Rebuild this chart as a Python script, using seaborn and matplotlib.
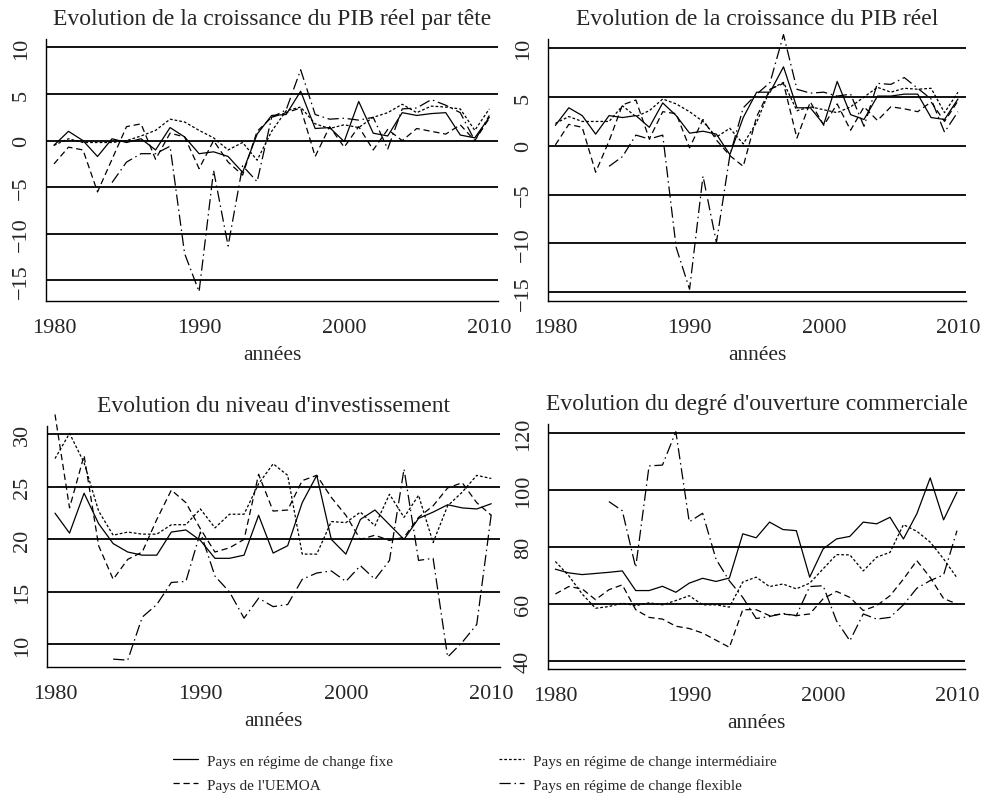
import numpy as np
import pandas as pd
import matplotlib
matplotlib.use("Agg")
import matplotlib.pyplot as plt
from matplotlib.lines import Line2D
import seaborn as sns

nan = np.nan
years = list(range(1980, 2011))

# Croissance du PIB réel par tête
pibt_fixe = [-0.5, 1.0, 0.0, -1.7, 0.2, -0.2, 0.2, -1.0, 1.4, 0.4, -1.4, -1.2, -1.7, -3.4, 0.7, 2.7,
             2.8, 5.3, 1.3, 1.4, -0.1, 4.2, 0.8, 0.5, 3.0, 2.7, 2.9, 3.0, 0.6, 0.3, 2.5]
pibt_inter = [-0.5, 0.2, -0.2, -0.2, -0.2, 0.0, 0.5, 1.1, 2.3, 2.0, 1.1, 0.3, -1.0, -0.2, -2.1, 1.0,
              3.2, 3.6, 1.8, 1.3, 1.7, 1.4, 2.5, 3.0, 3.9, 3.0, 3.7, 3.6, 3.4, 1.1, 3.4]
pibt_uemoa = [-2.5, -0.7, -1.0, -5.5, -2.0, 1.5, 1.8, -2.0, 0.8, 0.4, -3.0, 0.0, -2.3, -3.7, 1.0, 2.5,
              3.0, 3.5, -1.7, 1.5, -0.7, 1.5, -1.0, 1.2, 0.0, 1.3, 1.0, 0.7, 1.7, 0.0, 2.4]
pibt_flex = [nan, nan, nan, nan, -4.5, -2.3, -1.4, -1.4, -0.6, -12.1, -16.2, -3.2, -11.3, -2.7, -4.4, 2.5,
             3.3, 7.6, 2.8, 2.3, 2.4, 2.2, 2.5, -0.9, 3.4, 3.5, 4.4, 3.8, 3.0, 0.0, 2.7]

# Croissance du PIB réel
pib_fixe = [2.1, 3.9, 3.1, 1.2, 3.1, 2.9, 3.1, 1.9, 4.4, 3.1, 1.3, 1.5, 1.2, -0.9, 2.9, 5.5,
            5.5, 8.1, 3.9, 3.9, 2.2, 6.6, 3.2, 2.7, 5.1, 5.1, 5.3, 5.3, 2.9, 2.7, 4.8]
pib_inter = [2.3, 3.0, 2.5, 2.5, 2.5, 4.1, 3.0, 3.6, 4.8, 4.3, 3.5, 2.5, 0.9, 1.8, 0.2, 2.4,
             5.8, 6.5, 3.6, 4.0, 3.7, 3.4, 4.0, 5.0, 6.0, 5.5, 5.9, 5.8, 5.9, 3.4, 5.5]
pib_uemoa = [0.1, 2.2, 1.9, -2.7, 0.5, 4.2, 4.7, 0.7, 3.5, 3.3, -0.2, 2.7, 0.6, -1.0, -2.1, 3.0,
             5.8, 6.4, 0.8, 4.5, 2.1, 4.3, 1.6, 4.0, 2.6, 4.0, 3.8, 3.5, 4.5, 2.5, 4.6]
pib_flex = [nan, nan, nan, nan, -2.1, -1.1, 1.1, 0.7, 1.1, -10.4, -14.7, -3.1, -9.9, -1.0, 3.9, 5.3,
            6.5, 11.4, 5.8, 5.4, 5.5, 5.1, 5.3, 2.0, 6.4, 6.3, 7.0, 5.9, 4.8, 1.4, 3.5]

# Niveau d'investissement
inv_fixe = [22.5, 20.6, 24.4, 21.5, 19.6, 18.8, 18.5, 18.5, 20.7, 20.9, 19.9, 18.2, 18.2, 18.5, 22.3, 18.7,
            19.4, 23.5, 26.1, 20.0, 18.6, 21.9, 22.8, 21.4, 20.0, 22.0, 22.6, 23.3, 23.0, 22.9, 23.4]
inv_inter = [27.7, 30.1, 27.3, 22.7, 20.4, 20.7, 20.5, 20.5, 21.4, 21.4, 22.9, 21.1, 22.4, 22.4, 25.3, 27.2,
             26.1, 18.6, 18.6, 21.7, 21.6, 22.6, 21.3, 24.3, 22.1, 24.2, 19.7, 23.2, 24.5, 26.1, 25.8]
inv_uemoa = [31.9, 23.0, 28.0, 19.4, 16.2, 18.1, 18.8, 21.9, 24.7, 23.5, 21.0, 18.8, 19.2, 20.0, 26.2, 22.7,
             22.8, 25.6, 26.1, 24.0, 22.3, 20.0, 20.4, 19.9, 20.2, 22.1, 23.2, 24.9, 25.4, 23.5, 22.3]
inv_flex = [nan, nan, nan, nan, 8.6, 8.5, 12.6, 13.8, 15.9, 16.0, 20.7, 16.5, 15.0, 12.5, 14.4, 13.6,
            13.8, 16.2, 16.8, 17.0, 16.0, 17.5, 16.2, 18.0, 26.7, 18.0, 18.2, 8.8, 10.2, 11.9, 22.4]

# Degré d'ouverture commerciale
ouv_fixe = [72.3, 71.0, 70.4, 70.8, 71.2, 71.7, 64.8, 64.8, 66.3, 64.2, 67.4, 69.1, 68.0, 69.2, 84.7, 83.3,
            88.8, 86.2, 85.8, 69.5, 79.4, 82.9, 83.8, 88.8, 88.2, 90.5, 82.9, 91.7, 104.3, 89.6, 99.3]
ouv_inter = [75.0, 70.0, 63.6, 58.6, 59.2, 60.4, 59.5, 60.5, 59.8, 61.3, 63.0, 59.8, 59.8, 59.0, 67.8, 69.5,
             66.2, 67.1, 65.4, 67.4, 72.4, 77.4, 77.3, 71.7, 76.5, 78.2, 87.9, 85.6, 81.8, 75.9, 69.3]
ouv_uemoa = [63.6, 66.2, 65.4, 61.6, 65.1, 66.8, 58.1, 55.4, 54.8, 52.3, 51.5, 49.9, 47.4, 44.9, 58.1, 58.1,
             56.0, 56.6, 56.0, 56.6, 61.9, 64.5, 62.4, 57.8, 59.5, 63.0, 68.8, 75.3, 69.4, 62.0, 60.1]
ouv_flex = [nan, nan, nan, nan, 96.0, 92.8, 72.9, 108.5, 108.8, 120.5, 88.9, 91.9, 75.8, 68.2, 62.4, 55.0,
            55.7, 56.8, 56.0, 66.2, 66.5, 54.2, 47.2, 56.6, 54.8, 55.4, 59.8, 65.6, 68.3, 70.3, 85.8]

labels = ["Pays en régime de change fixe", "Pays en régime de change intermédiaire",
          "Pays de l'UEMOA", "Pays en régime de change flexible"]
styles = ["-", (0, (2.2, 1.6)), (0, (5, 3)), (0, (9, 3, 1.2, 3))]

panels = [
    ("Evolution de la croissance du PIB réel par tête", [pibt_fixe, pibt_inter, pibt_uemoa, pibt_flex],
     [-15, -10, -5, 0, 5, 10], (-17.2, 10.9), [46, 40, 498, 302]),
    ("Evolution de la croissance du PIB réel", [pib_fixe, pib_inter, pib_uemoa, pib_flex],
     [-15, -10, -5, 0, 5, 10], (-15.9, 10.95), [548, 40, 966, 302]),
    ("Evolution du niveau d'investissement", [inv_fixe, inv_inter, inv_uemoa, inv_flex],
     [10, 15, 20, 25, 30], (7.85, 30.8), [47, 427, 500, 668]),
    ("Evolution du degré d'ouverture commerciale", [ouv_fixe, ouv_inter, ouv_uemoa, ouv_flex],
     [40, 60, 80, 100, 120], (37.3, 123.2), [548, 425, 965, 670]),
]

sns.set_theme(style="white")
plt.rcParams["font.family"] = ["Liberation Serif", "DejaVu Serif"]

W, H = 981, 803
fig = plt.figure(figsize=(W / 100, H / 100), dpi=100)

for title, series, yticks, ylim, (l, t, r, b) in panels:
    ax = fig.add_axes([l / W, 1 - b / H, (r - l) / W, (b - t) / H])
    for vals, ls in zip(series, styles):
        df = pd.DataFrame({"annee": years, "valeur": vals}).dropna()
        sns.lineplot(data=df, x="annee", y="valeur", ax=ax, color="black", lw=0.9,
                     linestyle=ls, clip_on=False, zorder=3)
    ax.set_xlim(1979.45, 2010.6)
    ax.set_ylim(*ylim)
    ax.set_xticks([1980, 1990, 2000, 2010])
    ax.set_yticks(yticks)
    for y in yticks:
        ax.axhline(y, color="black", lw=1.3, zorder=1)
    ax.tick_params(axis="both", direction="out", length=6, width=1, color="black",
                   labelsize=16, pad=6)
    ax.tick_params(axis="y", labelrotation=90, pad=5)
    for lab in ax.get_yticklabels():
        lab.set_va("center")
    for s in ["top", "right"]:
        ax.spines[s].set_visible(False)
    for s in ["left", "bottom"]:
        ax.spines[s].set_color("black")
        ax.spines[s].set_linewidth(1)
    ax.set_xlabel("années", fontsize=15.5, labelpad=6)
    ax.set_ylabel("")
    ax.set_title(title, fontsize=17, pad=11)

handles = [Line2D([], [], color="black", lw=0.9, linestyle=styles[i]) for i in [0, 2, 1, 3]]
hlabels = [labels[i] for i in [0, 2, 1, 3]]
fig.legend(handles, hlabels, ncol=2, loc="upper left", bbox_to_anchor=(159 / W, 1 - 741 / H),
           frameon=False, fontsize=11, handlelength=1.65, handletextpad=0.6,
           columnspacing=6.9, labelspacing=0.68)

fig.savefig("out.png", dpi=100, facecolor="white")
